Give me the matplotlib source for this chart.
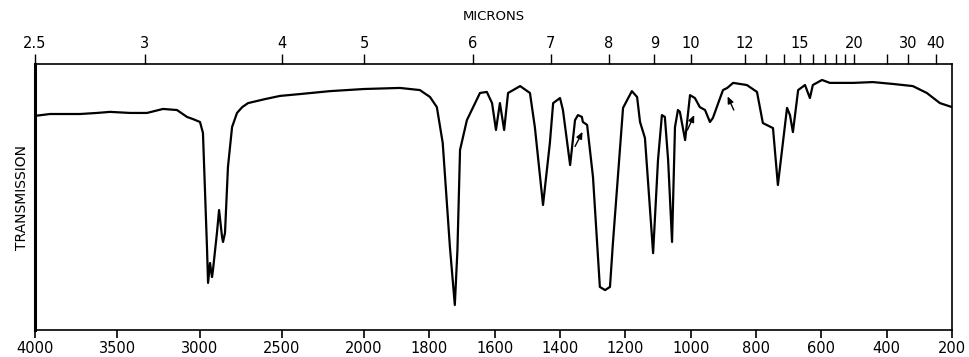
import numpy as np
import matplotlib.pyplot as plt

# IR spectrum: wavenumber (cm-1) and % transmission
wavenumber = [
    4000, 3909, 3726, 3623, 3544, 3422, 3319, 3222, 3137, 3076, 3040, 2997,
    2979, 2954, 2948, 2936, 2924, 2918, 2894, 2881, 2863, 2857, 2845, 2827,
    2802, 2772, 2740, 2705, 2602, 2511, 2389, 2207, 2000, 1890, 1829, 1798,
    1777, 1759, 1737, 1722, 1714, 1706, 1685, 1645, 1624, 1608, 1596, 1584,
    1571, 1559, 1522, 1492, 1477, 1452, 1431, 1421, 1400, 1391, 1369, 1354,
    1345, 1333, 1330, 1317, 1299, 1278, 1262, 1247, 1238, 1207, 1180, 1164,
    1155, 1140, 1115, 1100, 1088, 1079, 1069, 1057, 1048, 1039, 1033, 1017,
    1002, 987, 972, 956, 941, 932, 910, 901, 888, 870, 828, 797, 779, 748,
    733, 705, 696, 687, 671, 650, 635, 626, 598, 574, 503, 442, 381, 320,
    277, 237, 200,
]
transmission = [
    80.5, 81.2, 81.2, 81.6, 82.0, 81.6, 81.6, 83.1, 82.7, 80.1, 79.3, 78.2,
    74.1, 30.1, 17.7, 25.2, 19.9, 22.6, 36.5, 45.1, 35.0, 33.1, 36.5, 61.3,
    76.3, 81.6, 83.8, 85.3, 86.8, 88.0, 88.7, 89.8, 90.6, 91.0, 90.2, 87.6,
    83.8, 70.3, 31.2, 9.4, 30.0, 67.7, 78.9, 89.1, 89.5, 85.3, 75.2, 85.3,
    75.2, 89.1, 91.7, 89.1, 76.3, 47.0, 70.3, 85.3, 87.2, 82.7, 62.0, 78.9,
    80.8, 80.1, 78.2, 77.1, 57.5, 16.2, 15.0, 16.2, 32.7, 83.5, 89.8, 87.6,
    78.2, 72.2, 28.9, 63.9, 80.8, 80.1, 63.9, 33.1, 76.3, 82.7, 82.0, 71.4,
    88.3, 87.2, 83.8, 82.7, 78.2, 79.7, 87.2, 90.2, 91.0, 92.9, 92.1, 89.5,
    77.8, 75.9, 54.5, 83.5, 80.8, 74.4, 90.2, 92.1, 87.2, 92.1, 94.0, 92.9,
    92.9, 93.2, 92.5, 91.7, 89.1, 85.3, 83.8,
]

bottom_ticks = [4000, 3500, 3000, 2500, 2000, 1800, 1600, 1400, 1200, 1000,
                800, 600, 400, 200]
micron_labels = [2.5, 3, 4, 5, 6, 7, 8, 9, 10, 12, 15, 20, 30, 40]
micron_minor = [13, 14, 16, 17, 18, 19, 25]

# chart paper changes scale at 2000 cm-1 (low side is twice as wide)
_wn_knots = [200, 2000, 4000]
_u_knots = [0.0, 588.0, 917.0]


def fwd(w):
    return np.interp(w, _wn_knots, _u_knots)


def inv(u):
    return np.interp(u, _u_knots, _wn_knots)


plt.rcParams['font.family'] = ['DejaVu Sans']

fig = plt.figure(figsize=(9.69, 3.57), dpi=100)
ax = fig.add_axes([35 / 969, 27 / 357, 917 / 969, 266 / 357])
ax.set_xscale('function', functions=(fwd, inv))
ax.plot(wavenumber, transmission, color='black', lw=1.6,
        solid_joinstyle='round', solid_capstyle='round')
ax.set_xlim(4000, 200)
ax.set_ylim(0, 100)

ax.set_xticks(bottom_ticks)
ax.set_xticklabels([str(t) for t in bottom_ticks])
ax.xaxis.set_minor_locator(plt.NullLocator())
ax.tick_params(axis='x', direction='out', length=6, width=1.2,
               labelsize=10.5, pad=2)
ax.set_yticks([])
ax.set_ylabel('TRANSMISSION', fontsize=10, labelpad=4)

for s in ax.spines.values():
    s.set_linewidth(1.2)
ax.spines['left'].set_linewidth(2.2)

top = ax.twiny()
top.set_xscale('function', functions=(fwd, inv))
top.set_xlim(4000, 200)
top.set_xticks([1e4 / m for m in micron_labels])
top.set_xticklabels([str(m) for m in micron_labels])
top.set_xticks([1e4 / m for m in micron_minor], minor=True)
top.tick_params(axis='x', which='both', direction='out', length=7,
               width=1.0, labelsize=10.5, pad=2)
top.set_xlabel('MICRONS', fontsize=9.5, labelpad=12)
for s in top.spines.values():
    s.set_visible(False)

# small marker arrows drawn on the original trace
arrow = dict(arrowstyle='-|>,head_length=0.5,head_width=0.22', color='black',
             lw=1.0, mutation_scale=8, shrinkA=0, shrinkB=0)
ax.annotate('', xy=(1331, 74.5), xytext=(1354, 69.0), arrowprops=arrow)
ax.annotate('', xy=(989, 80.8), xytext=(1010, 75.2), arrowprops=arrow)
ax.annotate('', xy=(887, 87.8), xytext=(868, 82.7), arrowprops=arrow)

fig.savefig('out.png', dpi=100)
